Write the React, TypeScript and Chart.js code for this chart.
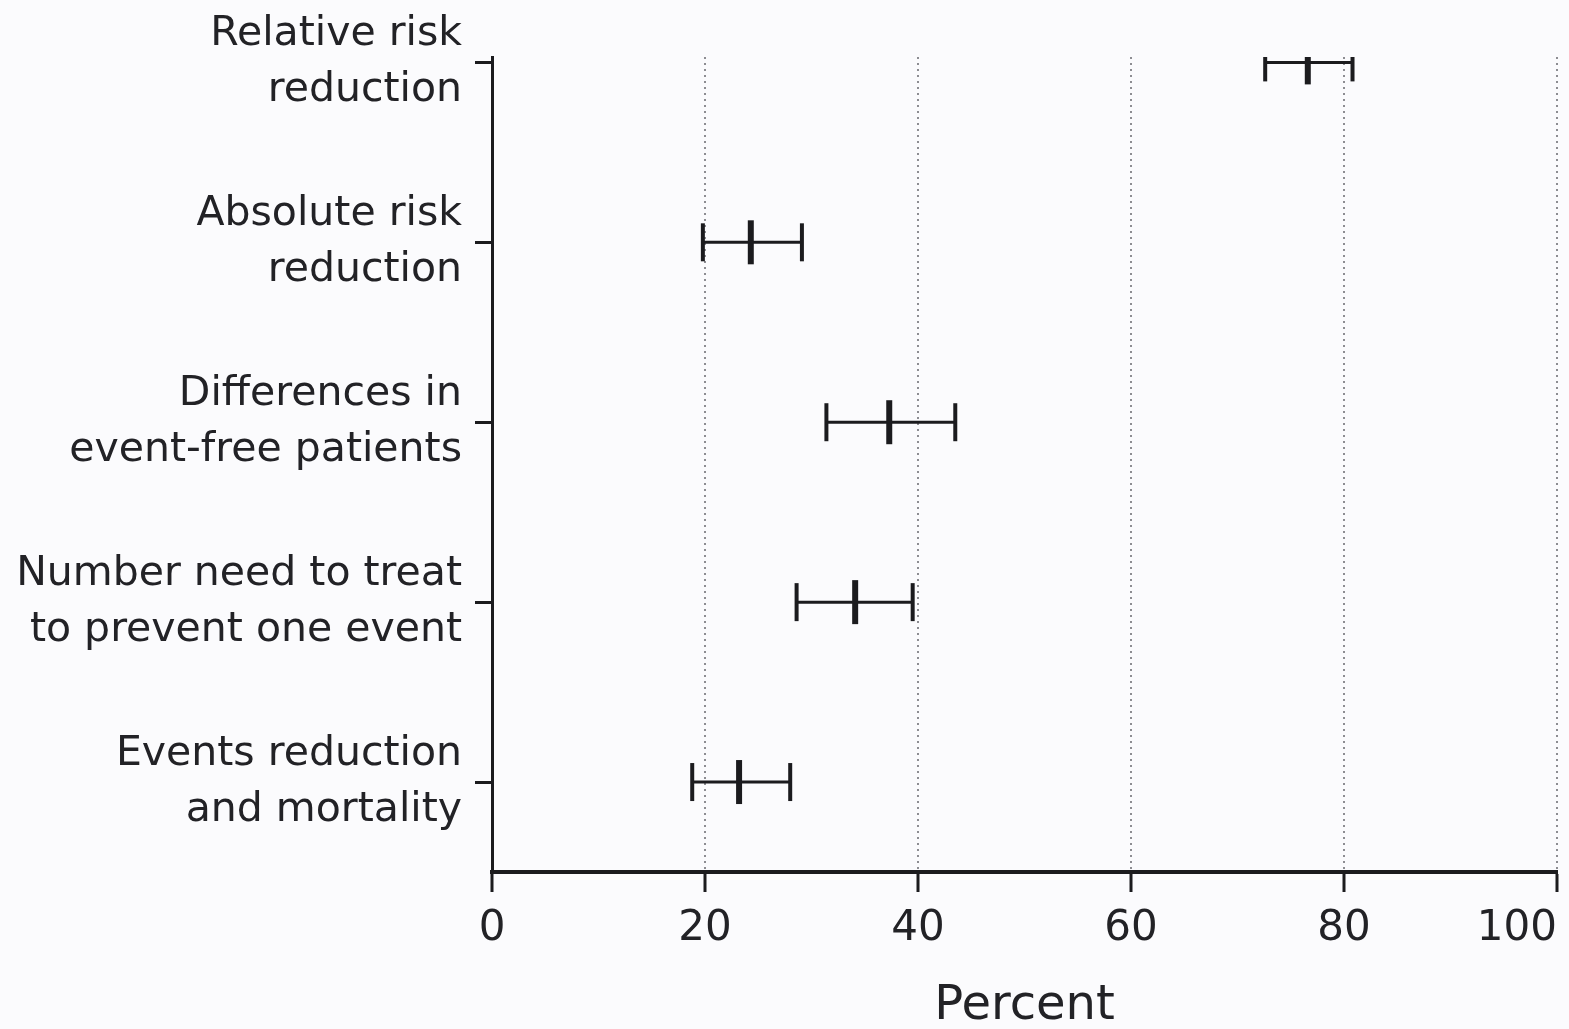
import React, { useEffect, useRef } from "react";
import { Chart, registerables } from "chart.js";

Chart.register(...registerables);

const categories: string[][] = [
  ["Relative risk", "reduction"],
  ["Absolute risk", "reduction"],
  ["Differences in", "event-free patients"],
  ["Number need to treat", "to prevent one event"],
  ["Events reduction", "and mortality"],
];
const centerValues = [76.6, 24.3, 37.3, 34.1, 23.2];
const lowerValues = [72.6, 19.8, 31.4, 28.6, 18.8];
const upperValues = [80.8, 29.1, 43.5, 39.5, 28.0];
const xTicks = [0, 20, 40, 60, 80, 100];
const xTitle = "Percent";

const INK = "#1b1b1e";
const TEXT = "#222226";

export default function App() {
  const ref = useRef<HTMLCanvasElement | null>(null);
  useEffect(() => {
    if (!ref.current) return;
    const ciSets: any[] = categories.map((_, i) => ({
      type: "line",
      data: [
        { x: lowerValues[i], y: i },
        { x: upperValues[i], y: i },
      ],
      borderColor: INK,
      borderWidth: 3,
      pointStyle: "line",
      pointRadius: 19,
      pointRotation: 90,
      pointBorderWidth: 4,
      pointBorderColor: INK,
      pointBackgroundColor: INK,
      showLine: true,
    }));
    const midSet: any = {
      type: "scatter",
      data: centerValues.map((v, i) => ({ x: v, y: i })),
      pointStyle: "line",
      pointRadius: 22,
      pointRotation: 90,
      pointBorderWidth: 6,
      borderColor: INK,
      pointBorderColor: INK,
      backgroundColor: INK,
    };
    const chart = new Chart(ref.current, {
      type: "scatter",
      data: { datasets: [...ciSets, midSet] },
      options: {
        animation: false,
        responsive: false,
        maintainAspectRatio: false,
        layout: { autoPadding: false, padding: { left: 0, right: 12, top: 57, bottom: 0 } },
        plugins: { legend: { display: false }, tooltip: { enabled: false } },
        scales: {
          x: {
            type: "linear",
            min: 0,
            max: 100,
            afterBuildTicks: (s: any) => {
              s.ticks = xTicks.map((v) => ({ value: v }));
            },
            afterFit: (s: any) => {
              s.height = 157;
              s.paddingRight = 0;
              s.paddingLeft = 0;
            },
            border: { display: true, color: INK, width: 4, dash: [2, 4] },
            grid: {
              color: (c: any) => (c.tick && c.tick.value === 0 ? "rgba(0,0,0,0)" : "#8d8d92"),
              lineWidth: 2,
              drawTicks: true,
              tickLength: 20,
              tickColor: INK,
              tickWidth: 3,
              tickBorderDash: [],
            },
            ticks: {
              color: TEXT,
              font: { family: "DejaVu Sans", size: 42 },
              padding: 12,
              maxRotation: 0,
              callback: (v: any) =>
                Number(v) === 100 ? "100\u00A0\u00A0\u00A0\u00A0\u00A0\u00A0" : String(v),
            },
            title: {
              display: true,
              text: xTitle,
              color: TEXT,
              font: { family: "DejaVu Sans", size: 48 },
              padding: { top: 0, bottom: -6 },
            },
          },
          y: {
            type: "linear",
            reverse: true,
            min: -0.03,
            max: 4.5,
            afterBuildTicks: (s: any) => {
              s.ticks = categories.map((_, i) => ({ value: i }));
            },
            afterFit: (s: any) => {
              s.width = 492;
              s.paddingTop = 0;
              s.paddingBottom = 0;
            },
            border: { display: true, color: INK, width: 3 },
            grid: {
              drawOnChartArea: false,
              drawTicks: true,
              tickLength: 17,
              tickColor: INK,
              tickWidth: 3,
            },
            ticks: {
              color: TEXT,
              font: { family: "DejaVu Sans", size: 41, lineHeight: 1.36 },
              padding: 13,
              callback: (v: any) => categories[Math.round(Number(v))] || "",
            },
          },
        },
      } as any,
    });
    return () => chart.destroy();
  }, []);
  return (
    <div
      style={{
        position: "fixed",
        left: 0,
        top: 0,
        width: "1569px",
        height: "1029px",
        background: "#fbfbfd",
      }}
    >
      <canvas ref={ref} width={1569} height={1029} style={{ display: "block" }} />
    </div>
  );
}
